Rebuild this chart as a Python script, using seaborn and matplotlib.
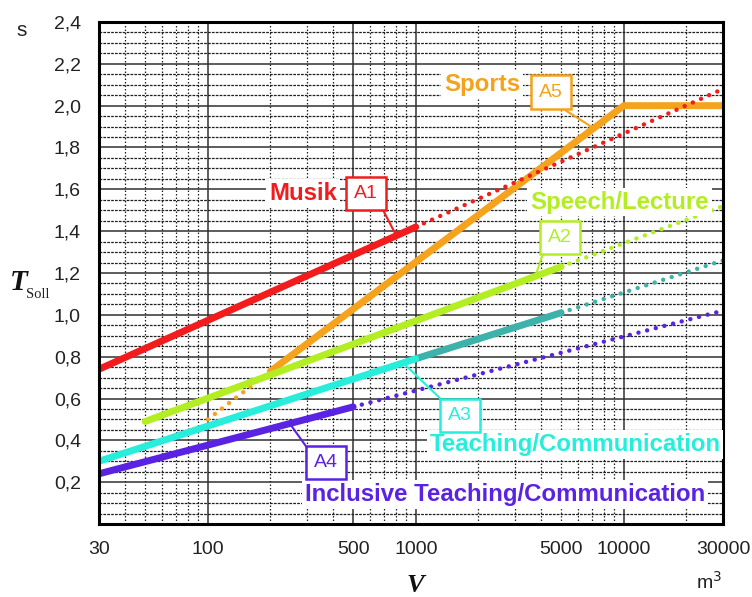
import numpy as np
import matplotlib
matplotlib.use("Agg")
import matplotlib.pyplot as plt
from matplotlib.ticker import FixedLocator, FuncFormatter, NullFormatter
import seaborn as sns

# Reverberation time targets T_Soll over room volume V (group endpoints)
V_A1 = [30, 1000]
T_A1 = [0.74, 1.42]
V_A1_ext = [1000, 30000]
T_A1_ext = [1.42, 2.08]

V_A2 = [50, 5000]
T_A2 = [0.49, 1.23]
V_A2_ext = [5000, 30000]
T_A2_ext = [1.23, 1.52]

V_A3 = [30, 1000]
T_A3 = [0.30, 0.79]
V_A3_mid = [1000, 5000]
T_A3_mid = [0.79, 1.01]
V_A3_ext = [5000, 30000]
T_A3_ext = [1.01, 1.26]

V_A4 = [30, 500]
T_A4 = [0.24, 0.56]
V_A4_ext = [500, 30000]
T_A4_ext = [0.56, 1.02]

V_A5_pre = [100, 200]
T_A5_pre = [0.50, 0.73]
V_A5 = [200, 10000, 30000]
T_A5 = [0.73, 2.00, 2.00]

x_ticks = [30, 100, 500, 1000, 5000, 10000, 30000]
x_minor = [40, 50, 60, 70, 80, 90, 200, 300, 400, 600, 700, 800, 900,
           2000, 3000, 4000, 6000, 7000, 8000, 9000, 20000]
y_ticks = [0.0, 0.2, 0.4, 0.6, 0.8, 1.0, 1.2, 1.4, 1.6, 1.8, 2.0, 2.2, 2.4]

RED = "#F21C1C"
ORANGE = "#F5A21C"
GREEN = "#B2EE22"
CYAN = "#26EEDA"
TEAL = "#3CB2AA"
PURPLE = "#5A22E2"

sns.set_theme(style="white")
plt.rcParams["font.family"] = ["Liberation Sans", "DejaVu Sans"]

fig = plt.figure(figsize=(7.52, 5.97), dpi=100)
ax = fig.add_axes([99 / 752, 1 - 524 / 597, 624 / 752, 502 / 597])
ax.set_xscale("log")
ax.set_xlim(30, 30000)
ax.set_ylim(0, 2.4)

# grid
ax.xaxis.set_major_locator(FixedLocator(x_ticks))
ax.xaxis.set_minor_locator(FixedLocator(x_minor))
ax.xaxis.set_major_formatter(FuncFormatter(lambda v, p: f"{int(v)}"))
ax.xaxis.set_minor_formatter(NullFormatter())
ax.yaxis.set_major_locator(FixedLocator(y_ticks))
ax.yaxis.set_minor_locator(FixedLocator(np.arange(0.05, 2.4, 0.05)))
ax.yaxis.set_major_formatter(FuncFormatter(
    lambda v, p: "" if v < 0.1 else f"{v:.1f}".replace(".", ",")))

ax.grid(True, which="major", axis="both", color="#303030", lw=1.1, ls="-")
ax.grid(True, which="minor", axis="x", color="#202020", lw=0.9, ls=(0, (1.2, 1.6)))
ax.grid(True, which="minor", axis="y", color="#202020", lw=0.9, ls=(0, (2.2, 0.9)))
for tick_val, gl in zip(x_ticks, ax.get_xgridlines()):
    if tick_val == 5000:
        gl.set_linestyle((0, (1.2, 1.6)))
        gl.set_linewidth(0.9)
ax.set_axisbelow(True)

ax.tick_params(axis="x", which="major", direction="inout", length=12, width=1.6,
               color="black", labelsize=14, labelcolor="#222222", pad=6)
ax.tick_params(axis="x", which="minor", length=0)
ax.tick_params(axis="y", which="both", length=0, labelsize=14,
               labelcolor="#222222", pad=13)
for sp in ax.spines.values():
    sp.set_visible(True)
    sp.set_color("black")
    sp.set_linewidth(2.2)

solid_lw = 5.0
dot_kw = dict(lw=3.2, linestyle=(0, (0.01, 2.0)), dash_capstyle="round")

# curves
sns.lineplot(x=V_A5_pre, y=T_A5_pre, ax=ax, color=ORANGE, **dot_kw)
sns.lineplot(x=V_A5, y=T_A5, ax=ax, color=ORANGE, lw=solid_lw)
sns.lineplot(x=V_A1_ext, y=T_A1_ext, ax=ax, color=RED, **dot_kw)
sns.lineplot(x=V_A1, y=T_A1, ax=ax, color=RED, lw=solid_lw)
sns.lineplot(x=V_A2_ext, y=T_A2_ext, ax=ax, color=GREEN, **dot_kw)
sns.lineplot(x=V_A2, y=T_A2, ax=ax, color=GREEN, lw=solid_lw)
sns.lineplot(x=V_A3_ext, y=T_A3_ext, ax=ax, color=TEAL, **dot_kw)
sns.lineplot(x=V_A3_mid, y=T_A3_mid, ax=ax, color=TEAL, lw=solid_lw)
sns.lineplot(x=V_A3, y=T_A3, ax=ax, color=CYAN, lw=solid_lw)
sns.lineplot(x=V_A4_ext, y=T_A4_ext, ax=ax, color=PURPLE, **dot_kw)
sns.lineplot(x=V_A4, y=T_A4, ax=ax, color=PURPLE, lw=solid_lw)

ax.set_xlabel("")
ax.set_ylabel("")


def name_label(x, y, text, color):
    ax.text(x, y, text, color=color, fontsize=17.3, fontweight="bold",
            ha="center", va="center", zorder=6,
            bbox=dict(boxstyle="square,pad=0.12", fc="white", ec="none"))


def group_box(x, y, text, color, leader_from, leader_to):
    ax.annotate("", xy=leader_to, xytext=leader_from,
                arrowprops=dict(arrowstyle="-", color=color, lw=1.5,
                                shrinkA=0, shrinkB=0), zorder=6)
    ax.text(x, y, text, color=color, fontsize=14, ha="center", va="center",
            zorder=7,
            bbox=dict(boxstyle="square,pad=0.42", fc="white", ec=color, lw=1.8))


name_label(287, 1.582, "Musik", RED)
group_box(576, 1.58, "A1", RED, (697, 1.50), (805, 1.38))

name_label(2088, 2.099, "Sports", ORANGE)
group_box(4480, 2.065, "A5", ORANGE, (5220, 1.979), (7180, 1.892))

name_label(9540, 1.539, "Speech/Lecture", GREEN)
group_box(4950, 1.371, "A2", GREEN, (4100, 1.295), (3750, 1.182))

group_box(1635, 0.520, "A3", CYAN, (1309, 0.601), (870, 0.77))
name_label(5830, 0.381, "Teaching/Communication", CYAN)

group_box(369, 0.295, "A4", PURPLE, (297, 0.371), (248, 0.48))
name_label(2690, 0.142, "Inclusive Teaching/Communication", PURPLE)

# axis labels
serif = ["Liberation Serif", "DejaVu Serif"]
fig.text(22 / 752, 1 - 30 / 597, "s", fontsize=15, color="#222222",
         ha="center", va="center")
fig.text(19 / 752, 1 - 283 / 597, "T", fontsize=21, fontweight="bold",
         fontstyle="italic", family=serif, color="#111111",
         ha="center", va="center")
fig.text(38 / 752, 1 - 295 / 597, "Soll", fontsize=10.5, family=serif,
         color="#222222", ha="center", va="center")
fig.text(415 / 752, 1 - 586 / 597, "V", fontsize=19, fontweight="bold",
         fontstyle="italic", family=serif, color="#111111",
         ha="center", va="center")
fig.text(709 / 752, 1 - 582 / 597, "m$^3$", fontsize=14, color="#222222",
         ha="center", va="center")

fig.savefig("out.png", dpi=100)
